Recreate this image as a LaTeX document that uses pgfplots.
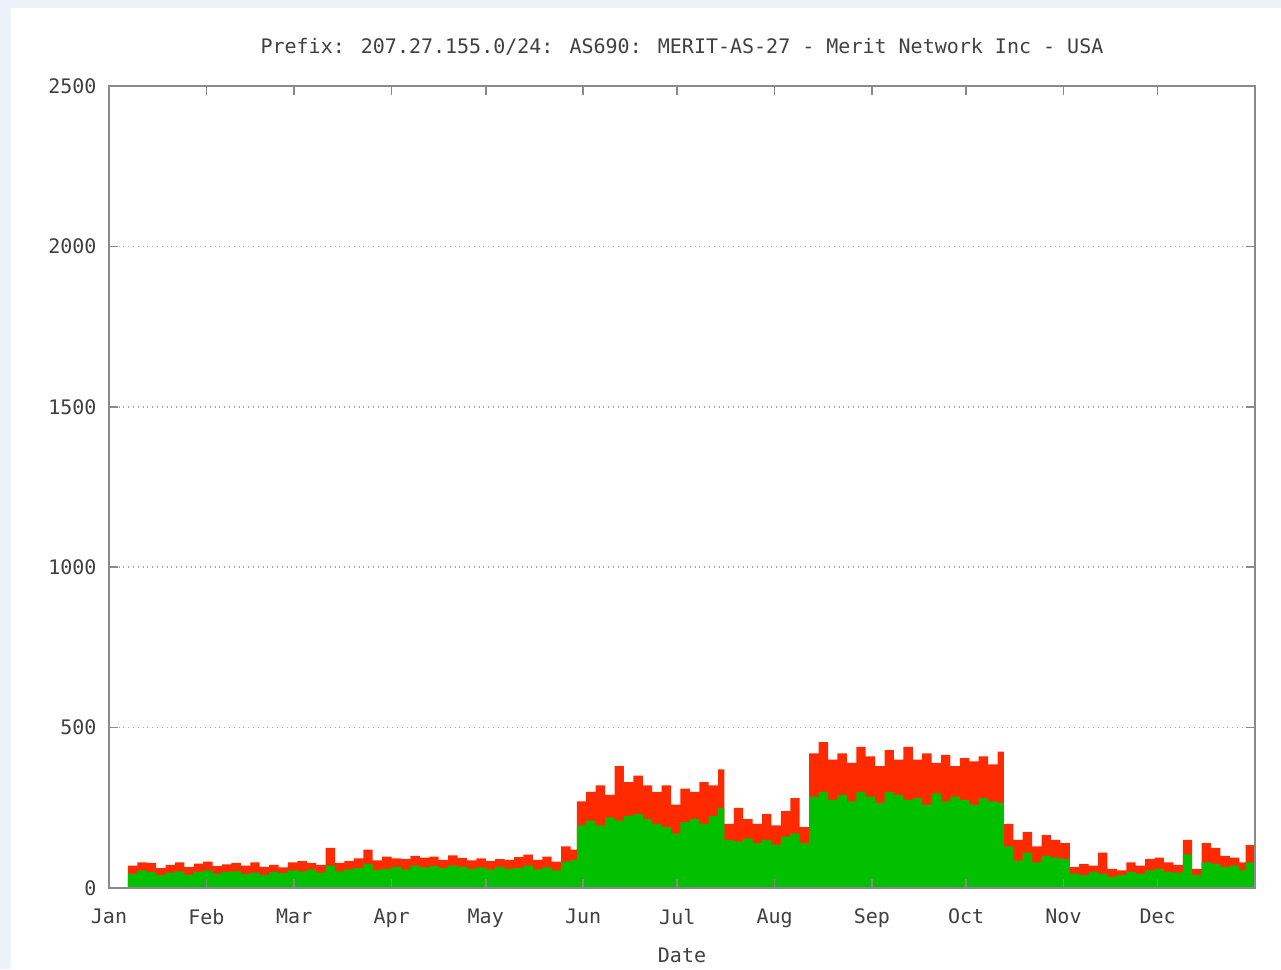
\documentclass[border=0pt]{standalone}
\usepackage{pgfplots}
\pgfplotsset{compat=1.18}
\usepackage{pgfplotstable}
\usepackage{fontspec}
\setmainfont{DejaVu Sans Mono}
\definecolor{bgblue}{HTML}{EDF2FA}
\definecolor{gpgreen}{HTML}{00C000}
\definecolor{gpred}{HTML}{FF2A00}
\definecolor{frame}{HTML}{8A8A8A}

% day of year, green (lower) count, total (top of red)
\pgfplotstableread{
day green total
6 45 70
9 55 80
12 50 78
15 40 62
18 48 72
21 52 80
24 42 65
27 50 76
30 55 82
33 45 68
36 50 74
39 52 78
42 44 70
45 48 80
48 42 66
51 50 72
54 46 64
57 55 80
60 52 84
63 58 78
66 48 72
69 70 125
72 52 78
75 58 84
78 62 92
81 75 120
84 56 86
87 60 98
90 66 92
93 58 90
96 70 100
99 64 95
102 68 98
105 62 88
108 70 102
111 66 94
114 60 86
117 64 92
120 58 84
123 66 90
126 60 88
129 62 96
132 70 104
135 58 88
138 64 98
141 55 82
144 82 130
147 88 120
149 195 270
152 210 300
155 195 320
158 220 290
161 210 380
164 225 330
167 230 350
170 215 320
173 200 300
176 190 320
179 170 260
182 205 310
185 215 300
188 200 330
191 225 320
194 250 370
196 150 200
199 145 250
202 155 215
205 140 200
208 150 230
211 135 195
214 160 240
217 170 280
220 140 190
223 285 420
226 300 455
229 275 400
232 290 420
235 270 390
238 300 440
241 285 410
244 265 380
247 300 430
250 290 400
253 275 440
256 280 400
259 260 420
262 295 390
265 270 415
268 285 380
271 275 405
274 260 395
277 280 410
280 270 385
283 265 425
285 130 200
288 85 150
291 110 175
294 80 130
297 100 165
300 95 150
303 90 140
306 45 65
309 40 75
312 50 70
315 45 110
318 35 60
321 40 55
324 50 80
327 45 70
330 55 90
333 60 95
336 50 80
339 48 72
342 105 150
345 40 60
348 80 140
351 75 125
354 65 100
357 70 95
360 55 80
362 80 134
365 85 110
}\prefixdata

\begin{document}
\begin{tikzpicture}
\fill[bgblue] (0pt,0pt) rectangle (640.5pt,484.5pt);
\fill[white] (5.5pt,0pt) rectangle (640.5pt,480.5pt);
\begin{axis}[
  at={(54.5pt,40.5pt)}, anchor=south west,
  scale only axis, width=573pt, height=401pt,
  xmin=0, xmax=365, ymin=0, ymax=2500,
  xtick={0,31,59,90,120,151,181,212,243,273,304,334},
  xticklabels={Jan,Feb,Mar,Apr,May,Jun,Jul,Aug,Sep,Oct,Nov,Dec},
  ytick={0,500,1000,1500,2000,2500},
  /pgf/number format/1000 sep={},
  /pgf/number format/assume math mode=true,
  ymajorgrids, grid style={dotted, gray!70, line width=0.8pt},
  tick align=inside, major tick length=4.5pt,
  axis line style={frame, line width=1.2pt},
  tick style={frame, line width=0.8pt},
  ticklabel style={font=\fontsize{10}{12}\selectfont, text=black!75},
  xticklabel style={yshift=-7pt},
  yticklabel style={xshift=-2.7pt},
  xlabel={Date},
  xlabel style={at={(axis description cs:0.5,0)}, anchor=center, yshift=-33.5pt,
    font=\fontsize{10}{12}\selectfont, text=black!75},
  title={Prefix: 207.27.155.0/24: AS690: MERIT-AS-27 - Merit Network Inc - USA},
  title style={at={(axis description cs:0.5,1)}, anchor=center, yshift=13.5pt,
    font=\fontsize{10}{12}\selectfont, text=black!75},
  axis on top,
]
\addplot[const plot, fill=gpred, draw=none] table[x=day, y=total] {\prefixdata} \closedcycle;
\addplot[const plot, fill=gpgreen, draw=none] table[x=day, y=green] {\prefixdata} \closedcycle;
\end{axis}
\end{tikzpicture}
\end{document}
